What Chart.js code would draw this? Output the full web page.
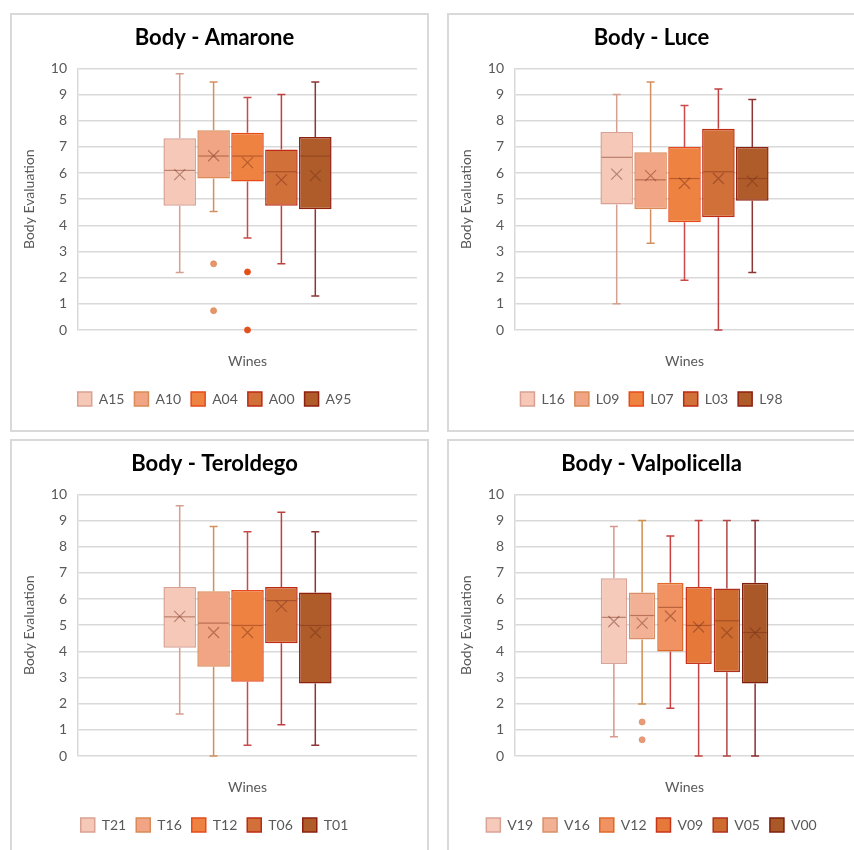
<!DOCTYPE html>
<html>
<head>
<meta charset="utf-8">
<script src="https://cdn.jsdelivr.net/npm/chart.js@4"></script>
<style>
  html, body { margin: 0; padding: 0; background: #fff; }
  body { width: 854px; height: 850px; position: relative; overflow: hidden; }
  .panel { position: absolute; width: 415px; height: 415px; border: 2px solid #d9d9d9; background: #fff; }
  .panel canvas { display: block; }
</style>
</head>
<body>
<div class="panel" style="left:10px; top:13px;"><canvas id="amarone" width="415" height="415"></canvas></div>
<div class="panel" style="left:447px; top:13px;"><canvas id="luce" width="415" height="415"></canvas></div>
<div class="panel" style="left:10px; top:439px;"><canvas id="teroldego" width="415" height="415"></canvas></div>
<div class="panel" style="left:447px; top:439px;"><canvas id="valpolicella" width="415" height="415"></canvas></div>
<script>
// y axis ticks
const yTicks = [0, 1, 2, 3, 4, 5, 6, 7, 8, 9, 10];

// Amarone
const amaroneWines = ['A15', 'A10', 'A04', 'A00', 'A95'];
const amaroneMin = [2.2, 4.53, 3.52, 2.53, 1.3];
const amaroneQ1 = [4.75, 5.79, 5.68, 4.75, 4.62];
const amaroneMedian = [6.1, 6.65, 6.65, 6.05, 6.65];
const amaroneQ3 = [7.33, 7.64, 7.54, 6.9, 7.38];
const amaroneMax = [9.8, 9.48, 8.89, 9.0, 9.48];
const amaroneMean = [5.94, 6.66, 6.4, 5.74, 5.9];
const amaroneOutliers = [[], [2.53, 0.74], [2.22, 0], [], []];

// Luce
const luceWines = ['L16', 'L09', 'L07', 'L03', 'L98'];
const luceMin = [1.0, 3.32, 1.9, 0, 2.2];
const luceQ1 = [4.8, 4.62, 4.12, 4.31, 4.94];
const luceMedian = [6.6, 5.74, 5.79, 6.05, 5.79];
const luceQ3 = [7.57, 6.79, 7.0, 7.69, 7.0];
const luceMax = [9.0, 9.48, 8.58, 9.21, 8.81];
const luceMean = [5.96, 5.9, 5.61, 5.79, 5.69];
const luceOutliers = [[], [], [], [], []];

// Teroldego
const teroldegoWines = ['T21', 'T16', 'T12', 'T06', 'T01'];
const teroldegoMin = [1.61, 0, 0.41, 1.19, 0.41];
const teroldegoQ1 = [4.14, 3.41, 2.84, 4.31, 2.77];
const teroldegoMedian = [5.32, 5.08, 4.99, 5.94, 4.99];
const teroldegoQ3 = [6.46, 6.3, 6.35, 6.46, 6.25];
const teroldegoMax = [9.57, 8.77, 8.57, 9.32, 8.57];
const teroldegoMean = [5.34, 4.72, 4.72, 5.72, 4.72];
const teroldegoOutliers = [[], [], [], [], []];

// Valpolicella
const valpolicellaWines = ['V19', 'V16', 'V12', 'V09', 'V05', 'V00'];
const valpolicellaMin = [0.74, 1.99, 1.83, 0, 0, 0];
const valpolicellaQ1 = [3.52, 4.45, 3.99, 3.52, 3.2, 2.77];
const valpolicellaMedian = [5.3, 5.37, 5.68, 4.99, 5.17, 4.72];
const valpolicellaQ3 = [6.79, 6.25, 6.62, 6.46, 6.4, 6.62];
const valpolicellaMax = [8.77, 9.0, 8.41, 9.0, 9.0, 9.0];
const valpolicellaMean = [5.14, 5.08, 5.35, 4.93, 4.71, 4.7];
const valpolicellaOutliers = [[], [1.3, 0.62], [], [], [], []];

// colours
const fill5 = ['#F5C8B8', '#F1A585', '#EE8240', '#D2703A', '#B05C2A'];
const border5 = ['#D9A193', '#DA8B57', '#E8491A', '#BE2A14', '#8E2010'];
const whisker5 = ['#D4A090', '#D48F60', '#C94A4A', '#C04040', '#8C3535'];
const dot5 = ['#E9A080', '#E9956A', '#E0521A', '#C9602A', '#A9552A'];

const fill6 = ['#F5CABB', '#F2B095', '#F09262', '#E6793A', '#CE6C30', '#AA5828'];
const border6 = ['#DAA397', '#D8906A', '#E06A2A', '#C8361A', '#B03020', '#7E1E0E'];
const whisker6 = ['#D59A8C', '#D0904E', '#C84040', '#C04545', '#B04848', '#8A3030'];
const dot6 = ['#EBA890', '#EB9A78', '#E8804A', '#E06A2A', '#C9602A', '#A9552A'];

const textGrey = '#595959';
const fontFamily = 'Lato, "Open Sans", sans-serif';

const boxPlugin = {
  id: 'boxWhisker',
  beforeDatasetsDraw(chart) {
    const ctx = chart.ctx;
    const y = chart.scales.y;
    const st = chart.options.plugins.boxWhisker;
    chart.data.datasets.forEach((ds, i) => {
      const bar = chart.getDatasetMeta(i).data[0];
      const x = bar.x;
      const cap = 4;
      ctx.save();
      ctx.strokeStyle = st.whisker[i];
      ctx.lineWidth = 1.5;
      ctx.beginPath();
      ctx.moveTo(x, y.getPixelForValue(st.q3[i]));
      ctx.lineTo(x, y.getPixelForValue(st.max[i]));
      ctx.moveTo(x - cap, y.getPixelForValue(st.max[i]));
      ctx.lineTo(x + cap, y.getPixelForValue(st.max[i]));
      ctx.moveTo(x, y.getPixelForValue(st.q1[i]));
      ctx.lineTo(x, y.getPixelForValue(st.min[i]));
      ctx.moveTo(x - cap, y.getPixelForValue(st.min[i]));
      ctx.lineTo(x + cap, y.getPixelForValue(st.min[i]));
      ctx.stroke();
      ctx.restore();
    });
  },
  afterDatasetsDraw(chart) {
    const ctx = chart.ctx;
    const y = chart.scales.y;
    const st = chart.options.plugins.boxWhisker;
    chart.data.datasets.forEach((ds, i) => {
      const bar = chart.getDatasetMeta(i).data[0];
      const x = bar.x;
      const half = bar.width / 2 - 1;
      ctx.save();
      // median
      ctx.strokeStyle = 'rgba(120, 45, 20, 0.45)';
      ctx.lineWidth = 1.2;
      const ym = y.getPixelForValue(st.median[i]);
      ctx.beginPath();
      ctx.moveTo(x - half, ym);
      ctx.lineTo(x + half, ym);
      ctx.stroke();
      // mean
      const ya = y.getPixelForValue(st.mean[i]);
      const s = 5.5;
      ctx.strokeStyle = 'rgba(110, 45, 25, 0.45)';
      ctx.lineWidth = 1.2;
      ctx.beginPath();
      ctx.moveTo(x - s, ya - s);
      ctx.lineTo(x + s, ya + s);
      ctx.moveTo(x + s, ya - s);
      ctx.lineTo(x - s, ya + s);
      ctx.stroke();
      // outliers
      st.outliers[i].forEach(v => {
        ctx.beginPath();
        ctx.arc(x, y.getPixelForValue(v), 3, 0, Math.PI * 2);
        ctx.fillStyle = st.dot[i];
        ctx.fill();
        ctx.strokeStyle = st.border[i];
        ctx.lineWidth = 0.8;
        ctx.stroke();
      });
      ctx.restore();
    });
  }
};

function makeBoxChart(id, title, wines, min, q1, median, q3, max, mean, outliers, fills, borders, whiskers, dots) {
  const datasets = wines.map((w, i) => ({
    label: w,
    data: [[q1[i], q3[i]]],
    backgroundColor: fills[i],
    borderColor: borders[i],
    borderWidth: 1.5,
    borderSkipped: false,
    categoryPercentage: 0.5,
    barPercentage: wines.length > 5 ? 0.93 : 0.96
  }));

  return new Chart(document.getElementById(id), {
    type: 'bar',
    data: { labels: [''], datasets: datasets },
    plugins: [boxPlugin],
    options: {
      responsive: false,
      animation: false,
      layout: { padding: { left: 0, right: 10, top: 0, bottom: 14 } },
      scales: {
        x: {
          grid: { display: false, drawTicks: false },
          border: { display: false },
          ticks: { display: false },
          title: {
            display: true,
            text: 'Wines',
            color: textGrey,
            font: { family: fontFamily, size: 14 },
            padding: { top: 0, bottom: 12 }
          },
          afterFit(scale) { scale.height = 52; }
        },
        y: {
          min: 0,
          max: 10,
          afterBuildTicks(scale) { scale.ticks = yTicks.map(v => ({ value: v })); },
          grid: { color: '#d9d9d9', lineWidth: 1.5, drawTicks: false },
          border: { display: true, color: '#d9d9d9', width: 1.5 },
          ticks: {
            color: textGrey,
            padding: 11,
            font: { family: fontFamily, size: 14 }
          },
          title: {
            display: true,
            text: 'Body Evaluation',
            color: textGrey,
            font: { family: fontFamily, size: 14 },
            padding: { top: 9, bottom: 0 }
          },
          afterFit(scale) { scale.width = 66; }
        }
      },
      plugins: {
        title: {
          display: true,
          text: title,
          color: '#000',
          font: { family: fontFamily, size: 22, weight: 'bold' },
          padding: { top: 10, bottom: 17 }
        },
        legend: {
          position: 'bottom',
          labels: {
            color: textGrey,
            boxWidth: 14,
            boxHeight: 14,
            padding: 10,
            font: { family: fontFamily, size: 14 }
          }
        },
        tooltip: { enabled: false },
        boxWhisker: {
          min: min, q1: q1, median: median, q3: q3, max: max, mean: mean,
          outliers: outliers, whisker: whiskers, border: borders, dot: dots
        }
      }
    }
  });
}

makeBoxChart('amarone', 'Body - Amarone', amaroneWines, amaroneMin, amaroneQ1, amaroneMedian,
  amaroneQ3, amaroneMax, amaroneMean, amaroneOutliers, fill5, border5, whisker5, dot5);
makeBoxChart('luce', 'Body - Luce', luceWines, luceMin, luceQ1, luceMedian,
  luceQ3, luceMax, luceMean, luceOutliers, fill5, border5, whisker5, dot5);
makeBoxChart('teroldego', 'Body - Teroldego', teroldegoWines, teroldegoMin, teroldegoQ1, teroldegoMedian,
  teroldegoQ3, teroldegoMax, teroldegoMean, teroldegoOutliers, fill5, border5, whisker5, dot5);
makeBoxChart('valpolicella', 'Body - Valpolicella', valpolicellaWines, valpolicellaMin, valpolicellaQ1, valpolicellaMedian,
  valpolicellaQ3, valpolicellaMax, valpolicellaMean, valpolicellaOutliers, fill6, border6, whisker6, dot6);
</script>
</body>
</html>
